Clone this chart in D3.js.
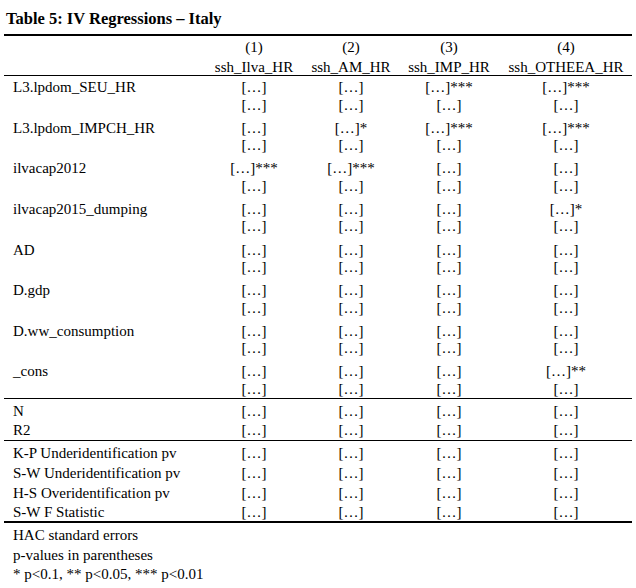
<!DOCTYPE html>
<html>
<head>
<meta charset="utf-8">
<script src="https://cdn.jsdelivr.net/npm/d3@7"></script>
<style>
  body { margin: 0; background: #fff; }
  svg { display: block; font-family: "Liberation Serif", "Times New Roman", serif; }
</style>
</head>
<body>
<svg id="table" width="636" height="588"></svg>
<script>
const title = 'Table 5: IV Regressions – Italy'
const colNumbers = ['(1)', '(2)', '(3)', '(4)']
const depVars = ['ssh_Ilva_HR', 'ssh_AM_HR', 'ssh_IMP_HR', 'ssh_OTHEEA_HR']
const variables = ['L3.lpdom_SEU_HR', 'L3.lpdom_IMPCH_HR', 'ilvacap2012', 'ilvacap2015_dumping', 'AD', 'D.gdp', 'D.ww_consumption', '_cons']
// significance stars on each coefficient, one string per column
const coefStars = [
  ['', '', '***', '***'],
  ['', '*', '***', '***'],
  ['***', '***', '', ''],
  ['', '', '', '*'],
  ['', '', '', ''],
  ['', '', '', ''],
  ['', '', '', ''],
  ['', '', '', '**']
]
const fitStats = ['N', 'R2']
const ivTests = ['K-P Underidentification pv', 'S-W Underidentification pv', 'H-S Overidentification pv', 'S-W F Statistic']
const notes = ['HAC standard errors', 'p-values in parentheses', '* p<0.1, ** p<0.05, *** p<0.01']
const cell = '[…]'

const svg = d3.select('#table')
const fontSize = 15
const left = 4
const right = 632
const labelX = 13

const x = d3.scaleOrdinal().domain(d3.range(4)).range([254, 351, 449, 566])
const yVar = d3.scaleLinear().domain([0, variables.length - 1]).range([87, 371])
const seOffset = 17.5
const yFit = d3.scaleLinear().domain([0, 1]).range([411, 430])
const yTest = d3.scaleLinear().domain([0, ivTests.length - 1]).range([453, 512])
const yNote = d3.scaleLinear().domain([0, notes.length - 1]).range([535, 574])

function text (tx, ty, s, anchor) {
  return svg.append('text')
    .attr('x', tx)
    .attr('y', ty)
    .attr('dy', '0.35em')
    .attr('font-size', fontSize)
    .attr('text-anchor', anchor || 'start')
    .attr('fill', '#000')
    .text(s)
}

function rule (ry, w) {
  svg.append('line')
    .attr('x1', left).attr('x2', right)
    .attr('y1', ry).attr('y2', ry)
    .attr('stroke', '#000')
    .attr('stroke-width', w)
}

// title
text(6, 18, title).attr('font-weight', 'bold').attr('font-size', 16.5)

rule(35, 2)

// header
colNumbers.forEach((c, j) => text(x(j), 47, c, 'middle'))
depVars.forEach((c, j) => text(x(j), 67, c, 'middle'))
rule(75.5, 1)

// coefficients and standard errors
variables.forEach((v, i) => {
  const yc = yVar(i)
  text(labelX, yc, v)
  coefStars[i].forEach((s, j) => {
    text(x(j), yc, cell + s, 'middle')
    text(x(j), yc + seOffset, cell, 'middle')
  })
})
rule(398.5, 1)

fitStats.forEach((v, i) => {
  text(labelX, yFit(i), v)
  d3.range(4).forEach(j => text(x(j), yFit(i), cell, 'middle'))
})
rule(440.5, 1)

ivTests.forEach((v, i) => {
  text(labelX, yTest(i), v)
  d3.range(4).forEach(j => text(x(j), yTest(i), cell, 'middle'))
})
rule(522, 2)

notes.forEach((n, i) => text(labelX, yNote(i), n))
</script>
</body>
</html>
